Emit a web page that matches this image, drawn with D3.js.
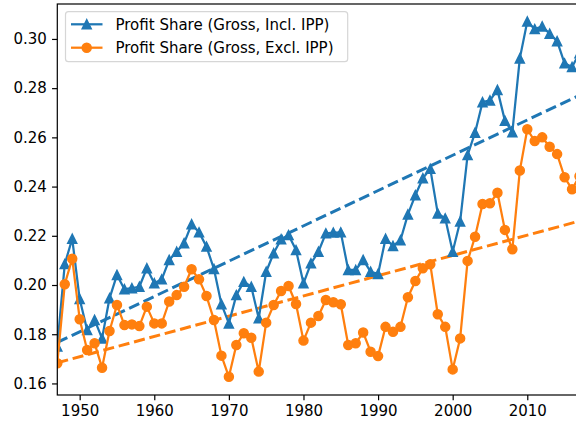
<!DOCTYPE html>
<html>
<head>
<meta charset="utf-8">
<script src="https://cdn.jsdelivr.net/npm/d3@7"></script>
<style>
  body { margin: 0; background: #fff; }
  svg { display: block; }
  text { font-family: "DejaVu Sans", sans-serif; }
</style>
</head>
<body>
<div id="chart"></div>
<script>
// years on the x axis
var years = d3.range(1947, 2018);

// profit share, gross, including intellectual property products
var inclIPP = [0.175, 0.2085, 0.2188, 0.1943, 0.1817, 0.1858, 0.1783, 0.1946, 0.2041, 0.1983,
  0.1987, 0.1993, 0.2068, 0.2007, 0.2023, 0.2102, 0.2135, 0.2170, 0.2247, 0.2214,
  0.2156, 0.2065, 0.1922, 0.1844, 0.1959, 0.2013, 0.1993, 0.1865, 0.2054, 0.2129,
  0.2186, 0.2203, 0.2142, 0.2007, 0.2088, 0.2135, 0.2210, 0.2213, 0.2214, 0.2061,
  0.2061, 0.2102, 0.2054, 0.2045, 0.2188, 0.2159, 0.2182, 0.2287, 0.2365, 0.2434,
  0.2472, 0.2291, 0.2271, 0.2135, 0.2258, 0.2528, 0.2619, 0.2743, 0.2750, 0.2793,
  0.2668, 0.2621, 0.2921, 0.3071, 0.3040, 0.3051, 0.3021, 0.2991, 0.2901, 0.2886,
  0.2942];

// profit share, gross, excluding intellectual property products
var exclIPP = [0.1682, 0.2003, 0.2107, 0.1861, 0.1736, 0.1763, 0.1664, 0.1813, 0.1919, 0.1837,
  0.1840, 0.1833, 0.1912, 0.1844, 0.1844, 0.1933, 0.1959, 0.1993, 0.2064, 0.2023,
  0.1955, 0.1858, 0.1713, 0.1627, 0.1756, 0.1804, 0.1786, 0.1648, 0.1847, 0.1919,
  0.1976, 0.1996, 0.1923, 0.1774, 0.1847, 0.1874, 0.1939, 0.1930, 0.1922, 0.1756,
  0.1763, 0.1807, 0.1729, 0.1711, 0.1830, 0.1810, 0.1830, 0.1950, 0.2016, 0.2068,
  0.2084, 0.1881, 0.1830, 0.1657, 0.1783, 0.2098, 0.2196, 0.2329, 0.2332, 0.2375,
  0.2224, 0.2145, 0.2465, 0.2633, 0.2585, 0.2600, 0.2562, 0.2532, 0.2438, 0.2389,
  0.2442];

// linear trends, start and end values
var trendYears = [1947, 2017];
var trendIncl = [0.1767, 0.2771];
var trendExcl = [0.1684, 0.2260];

var seriesNames = ["Profit Share (Gross, Incl. IPP)", "Profit Share (Gross, Excl. IPP)"];
var yTicks = [0.16, 0.18, 0.20, 0.22, 0.24, 0.26, 0.28, 0.30];
var xTicks = [1950, 1960, 1970, 1980, 1990, 2000, 2010];

var colors = ["#1f77b4", "#ff7f0e"];

var W = 576, H = 426;
var padL = 57.3, padT = 4, padB = 395;
var padR = padL + 70 * 7.46;

var svg = d3.select("#chart").append("svg")
  .attr("width", W)
  .attr("height", H);

var x = d3.scaleLinear().domain([1947, 2017]).range([padL, padR]);
var y = d3.scaleLinear().domain([0.1553, 0.3142]).range([padB, padT]);

svg.append("clipPath").attr("id", "plot")
  .append("rect")
  .attr("x", padL).attr("y", padT)
  .attr("width", padR - padL).attr("height", padB - padT);

var plot = svg.append("g").attr("clip-path", "url(#plot)");

var line = d3.line()
  .x(function(d) { return x(d[0]); })
  .y(function(d) { return y(d[1]); });

// trend lines
[trendIncl, trendExcl].forEach(function(t, i) {
  plot.append("path")
    .datum(trendYears.map(function(yr, j) { return [yr, t[j]]; }))
    .attr("d", line)
    .attr("fill", "none")
    .attr("stroke", colors[i])
    .attr("stroke-width", 3)
    .attr("stroke-dasharray", "11.1,4.8");
});

function triPath(s) {
  var h = s / 2;
  return "M0," + (-h) + "L" + (-h) + "," + h + "L" + h + "," + h + "Z";
}

var mk = 9;

[inclIPP, exclIPP].forEach(function(vals, i) {
  var pts = years.map(function(yr, j) { return [yr, vals[j]]; });
  plot.append("path")
    .datum(pts)
    .attr("d", line)
    .attr("fill", "none")
    .attr("stroke", colors[i])
    .attr("stroke-width", 2.25)
    .attr("stroke-linejoin", "round");

  var marks = plot.append("g").selectAll("path")
    .data(pts)
    .enter();
  if (i === 0) {
    marks.append("path")
      .attr("d", triPath(mk))
      .attr("transform", function(d) { return "translate(" + x(d[0]) + "," + y(d[1]) + ")"; })
      .attr("fill", colors[i])
      .attr("stroke", colors[i])
      .attr("stroke-width", 1.5)
      .attr("stroke-linejoin", "miter");
  } else {
    marks.append("circle")
      .attr("cx", function(d) { return x(d[0]); })
      .attr("cy", function(d) { return y(d[1]); })
      .attr("r", mk / 2)
      .attr("fill", colors[i])
      .attr("stroke", colors[i])
      .attr("stroke-width", 1.5);
  }
});

// axes
var yAxis = d3.axisLeft(y).tickValues(yTicks).tickFormat(d3.format(".2f")).tickSize(5.25).tickPadding(5.25);
var xAxis = d3.axisBottom(x).tickValues(xTicks).tickFormat(d3.format("d")).tickSize(5.25).tickPadding(5.25);

var gy = svg.append("g").attr("transform", "translate(" + padL + ",0)").call(yAxis);
var gx = svg.append("g").attr("transform", "translate(0," + padB + ")").call(xAxis);

[gx, gy].forEach(function(g) {
  g.select(".domain").remove();
  g.selectAll(".tick line").attr("stroke", "#000").attr("stroke-width", 1.2);
  g.selectAll(".tick text")
    .attr("fill", "#000")
    .style("font-size", "15px")
    .style("font-family", "DejaVu Sans, sans-serif");
});

// spines
svg.append("rect")
  .attr("x", padL).attr("y", padT)
  .attr("width", padR - padL).attr("height", padB - padT)
  .attr("fill", "none")
  .attr("stroke", "#000")
  .attr("stroke-width", 1.2);

// legend
var legend = svg.append("g");
legend.append("rect")
  .attr("x", 65.5).attr("y", 11.7)
  .attr("width", 282.2).attr("height", 50)
  .attr("rx", 3)
  .attr("fill", "#fff")
  .attr("fill-opacity", 0.8)
  .attr("stroke", "#d6d6d6")
  .attr("stroke-width", 1.2);

var rows = [24.3, 47.7];
seriesNames.forEach(function(name, i) {
  var ry = rows[i];
  legend.append("line")
    .attr("x1", 71).attr("x2", 102.5)
    .attr("y1", ry).attr("y2", ry)
    .attr("stroke", colors[i])
    .attr("stroke-width", 2.25);
  if (i === 0) {
    legend.append("path")
      .attr("d", triPath(mk))
      .attr("transform", "translate(86.7," + ry + ")")
      .attr("fill", colors[i])
      .attr("stroke", colors[i])
      .attr("stroke-width", 1.5);
  } else {
    legend.append("circle")
      .attr("cx", 86.7).attr("cy", ry).attr("r", mk / 2)
      .attr("fill", colors[i])
      .attr("stroke", colors[i])
      .attr("stroke-width", 1.5);
  }
  legend.append("text")
    .attr("x", 115.5)
    .attr("y", ry)
    .attr("dy", "0.36em")
    .style("font-size", "15px")
    .attr("fill", "#000")
    .text(name);
});
</script>
</body>
</html>
